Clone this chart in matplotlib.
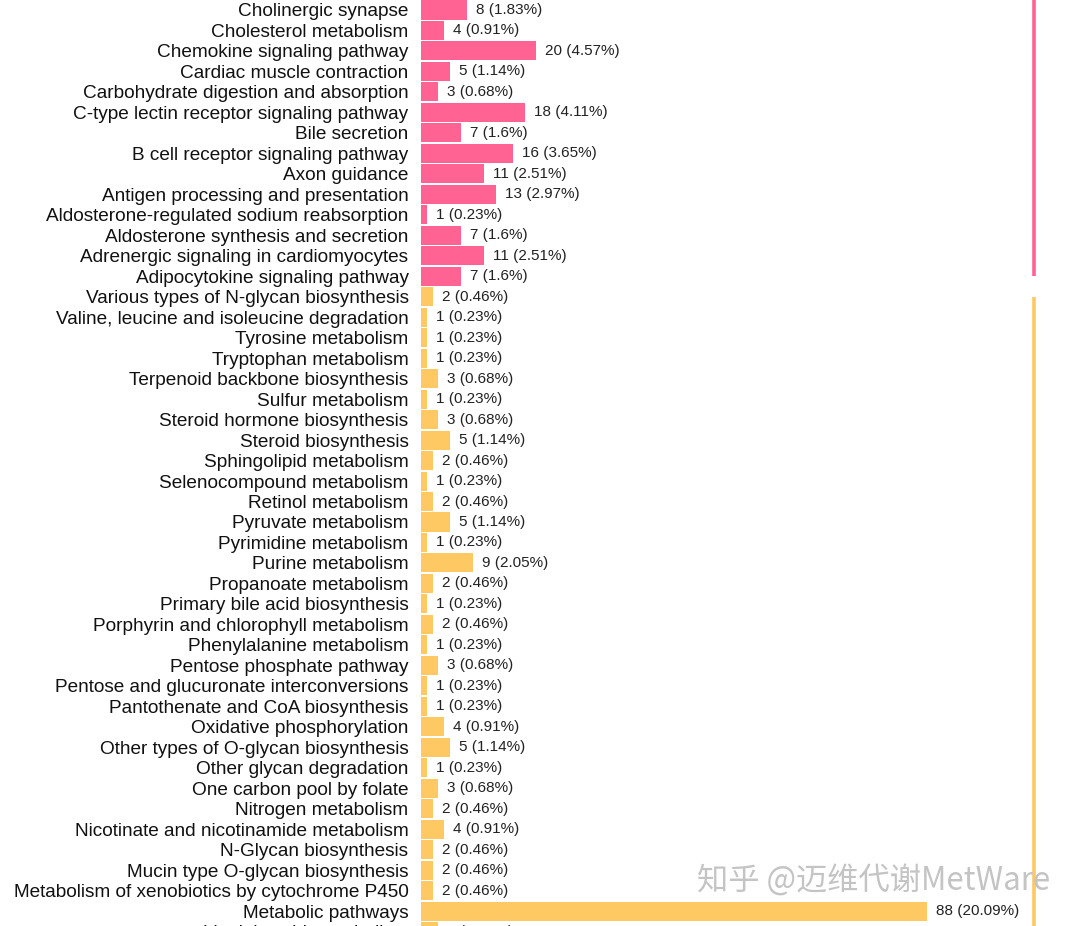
import matplotlib
matplotlib.use("Agg")
import matplotlib.pyplot as plt
import matplotlib.transforms as mtransforms

plt.rcParams['font.family'] = ['Liberation Sans', 'Noto Sans CJK SC', 'DejaVu Sans']

# ---- data (rows top to bottom; first and last rows are partly cut off in the reference) ----
pathways = [
    "Circadian entrainment",
    "Cholinergic synapse",
    "Cholesterol metabolism",
    "Chemokine signaling pathway",
    "Cardiac muscle contraction",
    "Carbohydrate digestion and absorption",
    "C-type lectin receptor signaling pathway",
    "Bile secretion",
    "B cell receptor signaling pathway",
    "Axon guidance",
    "Antigen processing and presentation",
    "Aldosterone-regulated sodium reabsorption",
    "Aldosterone synthesis and secretion",
    "Adrenergic signaling in cardiomyocytes",
    "Adipocytokine signaling pathway",
    "Various types of N-glycan biosynthesis",
    "Valine, leucine and isoleucine degradation",
    "Tyrosine metabolism",
    "Tryptophan metabolism",
    "Terpenoid backbone biosynthesis",
    "Sulfur metabolism",
    "Steroid hormone biosynthesis",
    "Steroid biosynthesis",
    "Sphingolipid metabolism",
    "Selenocompound metabolism",
    "Retinol metabolism",
    "Pyruvate metabolism",
    "Pyrimidine metabolism",
    "Purine metabolism",
    "Propanoate metabolism",
    "Primary bile acid biosynthesis",
    "Porphyrin and chlorophyll metabolism",
    "Phenylalanine metabolism",
    "Pentose phosphate pathway",
    "Pentose and glucuronate interconversions",
    "Pantothenate and CoA biosynthesis",
    "Oxidative phosphorylation",
    "Other types of O-glycan biosynthesis",
    "Other glycan degradation",
    "One carbon pool by folate",
    "Nitrogen metabolism",
    "Nicotinate and nicotinamide metabolism",
    "N-Glycan biosynthesis",
    "Mucin type O-glycan biosynthesis",
    "Metabolism of xenobiotics by cytochrome P450",
    "Metabolic pathways",
    "Linoleic acid metabolism",
]
counts = [4, 8, 4, 20, 5, 3, 18, 7, 16, 11, 13, 1, 7, 11, 7,
          2, 1, 1, 1, 3, 1, 3, 5, 2, 1, 2, 5, 1, 9, 2, 1, 2, 1, 3, 1, 1,
          4, 5, 1, 3, 2, 4, 2, 2, 2, 88, 3]
percents = ["0.91", "1.83", "0.91", "4.57", "1.14", "0.68", "4.11", "1.6", "3.65", "2.51",
            "2.97", "0.23", "1.6", "2.51", "1.6",
            "0.46", "0.23", "0.23", "0.23", "0.68", "0.23", "0.68", "1.14", "0.46", "0.23",
            "0.46", "1.14", "0.23", "2.05", "0.46", "0.23", "0.46", "0.23", "0.68", "0.23",
            "0.23", "0.91", "1.14", "0.23", "0.68", "0.46", "0.91", "0.46", "0.46", "0.46",
            "20.09", "0.68"]
groups = ["Organismal Systems"] * 15 + ["Metabolism"] * 32
group_colors = {"Organismal Systems": "#fe6393", "Metabolism": "#fec862"}
watermark = "知乎 @迈维代谢MetWare"

# ---- figure ----
W, H = 1080, 926
fig = plt.figure(figsize=(W / 100, H / 100), dpi=100)
left_px = 421
ax = fig.add_axes([left_px / W, 0, 1 - left_px / W, 1])

row_h = 20.48
first_center = 10 - row_h  # row 0 centre in pixels
y_top = (0 - first_center) / row_h
y_bot = (H - first_center) / row_h

px_per_unit = 5.75

ypos = list(range(len(pathways)))
colors = [group_colors[g] for g in groups]
ax.barh(ypos, counts, height=0.93, color=colors, edgecolor="none")

for y, c, p in zip(ypos, counts, percents):
    ax.text(c + 1.6, y, f"{c} ({p}%)", va="center", ha="left",
            fontsize=11, color="#222222")

# category labels (drawn as text so partly visible rows at the edges still show)
trans = mtransforms.blended_transform_factory(ax.transAxes, ax.transData)
for y, name in zip(ypos, pathways):
    ax.annotate(name, xy=(0, y), xycoords=trans, xytext=(-9, 0),
                textcoords="offset points", ha="right", va="center_baseline",
                fontsize=13.7, color="#111111", annotation_clip=False)

ax.set_yticks([])
ax.set_xticks([])
for s in ax.spines.values():
    s.set_visible(False)

# category brackets on the right
xline = (1034 - left_px) / (W - left_px)
for g in group_colors:
    idx = [i for i, gg in enumerate(groups) if gg == g]
    y0, y1 = idx[0], idx[-1]
    if y0 == 0:
        y0 = y_top - 1
    if y1 == len(groups) - 1:
        y1 = y_bot + 1
    ax.plot([xline, xline], [y0, y1], transform=trans, color=group_colors[g],
            lw=2.6, solid_capstyle="butt", clip_on=True)

ax.autoscale(False)
ax.set_xlim(0, (W - left_px) / px_per_unit)
ax.set_ylim(y_bot, y_top)

fig.text(697 / W, 1 - 882 / H, watermark, fontsize=22.5, color="#c4c4c4",
         ha="left", va="center",
         family=['Noto Sans CJK SC', 'DejaVu Sans'])

fig.savefig("out.png", dpi=100, facecolor="white")
